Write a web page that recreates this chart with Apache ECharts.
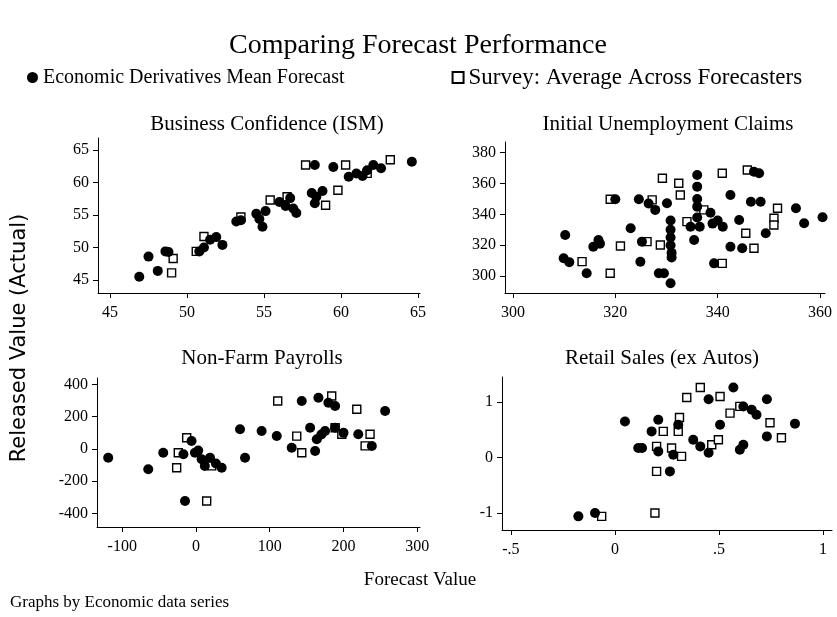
<!DOCTYPE html>
<html>
<head>
<meta charset="utf-8">
<script src="https://cdn.jsdelivr.net/npm/echarts@6/dist/echarts.min.js"></script>
<style>
  html, body { margin: 0; padding: 0; background: #fff; }
  #chart { width: 837px; height: 617px; }
</style>
</head>
<body>
<div id="chart"></div>
<script>
// ---- data: [forecast, released] pairs per indicator ----
const seriesNames = ['Economic Derivatives Mean Forecast', 'Survey: Average Across Forecasters'];
const panelTitles = ['Business Confidence (ISM)', 'Initial Unemployment Claims', 'Non-Farm Payrolls', 'Retail Sales (ex Autos)'];

const ismDerivatives = [[46.9,45.5],[47.5,48.6],[48.1,46.4],[48.6,49.4],[48.8,49.3],[50.8,49.4],[51.1,50.0],[51.5,51.2],[51.9,51.6],[52.3,50.4],[53.2,54.0],[53.5,54.2],[54.5,55.2],[54.7,54.4],[54.9,53.2],[55.1,55.6],[56.0,57.0],[56.4,56.4],[56.7,57.6],[56.9,56.0],[57.1,55.3],[58.1,58.4],[58.3,56.8],[58.4,57.8],[58.8,58.7],[58.3,62.7],[59.5,62.4],[60.5,60.9],[61.0,61.4],[61.4,61.0],[61.7,61.9],[62.1,62.7],[62.6,62.2],[64.6,63.2]];
const ismSurvey = [[49.0,46.1],[49.1,48.3],[50.6,49.4],[51.1,51.7],[53.5,54.7],[55.4,57.3],[56.5,57.8],[59.0,56.5],[59.8,58.8],[57.7,62.7],[60.3,62.7],[61.7,61.4],[63.2,63.5]];

const claimsDerivatives = [[310.2,326.6],[309.9,311.5],[311,309],[314.4,301.8],[315.7,319],[316.7,323.4],[317,321],[320,349.8],[324.6,349.8],[323,331],[325.2,322.3],[324.9,309.3],[328.5,301.8],[327.8,342.9],[326.5,347],[329.5,301.8],[330.8,295.3],[330.1,347.2],[330.8,336],[330.8,330],[330.8,325],[330.8,320],[331,315],[331,312],[334.7,332],[335.4,323.4],[336,365.6],[336,358],[336,350],[336,345],[336,338],[336.5,332],[338.6,341],[339,334],[340,336],[341,332],[342.5,352.6],[346.5,348.2],[348.4,348.2],[347.1,367.7],[348.1,366.7],[344.2,336.4],[342.5,319],[344.8,318],[339.3,308.2],[349.4,327.7],[355.3,344],[356.9,334.2],[360.5,338.1]];
const claimsSurvey = [[313.5,309.3],[319,301.8],[319,349.8],[321,319.5],[326.2,322.3],[327.2,349.4],[328.8,320.1],[329.2,363.4],[332.4,360.2],[332.7,352.6],[334,335.3],[337.3,342.9],[340.9,366.7],[345.8,368.8],[351.7,344],[351,337.5],[351,333.1],[347.1,318],[340.9,308.2],[345.5,327.7]];

const payrollDerivatives = [[-119,-54],[-64.7,-126],[-44.4,-23],[-14.9,-322],[-17,-33],[-6,50],[-1.4,-23],[3,-10],[7.7,-64],[12,-105],[19,-54],[27,-90],[34.8,-116],[59.7,122],[66.5,-54],[89,111],[109.5,80],[143.4,297],[166,318],[179.5,287],[188.6,266],[129.8,8],[154.7,132],[163.8,60],[175,111],[188.6,132],[161.5,-12],[170,90],[200,100],[220,91],[238.4,19],[256.4,235]];
const payrollSurvey = [[-26.2,-116],[-24,-23],[-12.6,70],[14.5,-322],[21.3,-105],[110.8,297],[136.6,80],[143.4,-23],[184,328],[188.6,132],[197.7,91],[218,246],[229.3,19],[236,91]];

const retailDerivatives = [[-0.176,-1.06],[-0.096,-1.0],[0.048,0.65],[0.112,0.17],[0.13,0.17],[0.176,0.47],[0.208,0.68],[0.208,0.11],[0.264,-0.25],[0.28,0.05],[0.304,0.59],[0.376,0.32],[0.41,0.2],[0.45,0.085],[0.45,1.05],[0.505,0.59],[0.569,1.26],[0.617,0.92],[0.657,0.86],[0.68,0.77],[0.60,0.14],[0.617,0.23],[0.73,1.05],[0.73,0.38],[0.865,0.61]];
const retailSurvey = [[-0.064,-1.06],[0.192,-1.0],[0.2,-0.25],[0.2,0.2],[0.272,0.17],[0.32,0.02],[0.232,0.47],[0.304,0.47],[0.31,0.72],[0.345,1.08],[0.41,1.26],[0.505,1.1],[0.553,0.8],[0.60,0.92],[0.465,0.23],[0.497,0.32],[0.745,0.625],[0.80,0.355]];

// ---- tick positions and their labels ----
const ismTicksX = [45, 50, 55, 60, 65];
const ismTicksY = [45, 50, 55, 60, 65];
const claimsTicksX = [300, 320, 340, 360];
const claimsTicksY = [300, 320, 340, 360, 380];
const payrollTicksX = [-100, 0, 100, 200, 300];
const payrollTicksY = [-400, -200, 0, 200, 400];
const retailTicksX = [-0.5, 0, 0.5, 1];
const retailTickLabelsX = ['-.5', '0', '.5', '1'];
const retailTicksY = [-1, 0, 1];

const SERIF = '"Liberation Serif", "Times New Roman", serif';
const SANS = '"DejaVu Sans", sans-serif';

// plot regions and axis ranges for the 2x2 layout
const grids = [
  { left: 98,  top: 138, width: 322, height: 155, xMin: 44.22, xMax: 65.13, yMin: 43.0,  yMax: 66.85 },
  { left: 505, top: 142, width: 320, height: 151, xMin: 298.44, xMax: 360.98, yMin: 288.97, yMax: 386.96 },
  { left: 97,  top: 378, width: 323, height: 149, xMin: -134.2, xMax: 303.7, yMin: -483.6, yMax: 440 },
  { left: 502, top: 377, width: 330, height: 153, xMin: -0.543, xMax: 1.043, yMin: -1.306, yMax: 1.45 }
];

const tickSets = [
  [ismTicksX, null, ismTicksY, null],
  [claimsTicksX, null, claimsTicksY, null],
  [payrollTicksX, null, payrollTicksY, null],
  [retailTicksX, retailTickLabelsX, retailTicksY, null]
];

function makeAxis(i, ticks, labels, min, max, isY) {
  return {
    type: 'value', gridIndex: i, min: min, max: max, scale: true,
    axisLine: { show: true, onZero: false, lineStyle: { color: '#000', width: 1 } },
    axisTick: { show: true, length: 5, customValues: ticks, lineStyle: { color: '#000', width: 1 } },
    axisLabel: {
      customValues: ticks, color: '#000', fontFamily: SERIF, fontSize: 16,
      margin: isY ? 9 : 12,
      formatter: function (v) {
        const k = ticks.findIndex(t => Math.abs(t - v) < 1e-9);
        return labels && k >= 0 ? labels[k] : String(v);
      }
    },
    splitLine: { show: false }
  };
}

const pairs = [
  [ismDerivatives, ismSurvey],
  [claimsDerivatives, claimsSurvey],
  [payrollDerivatives, payrollSurvey],
  [retailDerivatives, retailSurvey]
];

const series = [];
pairs.forEach((p, i) => {
  series.push({
    name: seriesNames[1], type: 'scatter', xAxisIndex: i, yAxisIndex: i,
    data: p[1], symbol: 'rect', symbolSize: 8,
    itemStyle: { color: '#fff', borderColor: '#000', borderWidth: 1.4, opacity: 1 },
    emphasis: { disabled: true }, z: 2
  });
  series.push({
    name: seriesNames[0], type: 'scatter', xAxisIndex: i, yAxisIndex: i,
    data: p[0], symbol: 'circle', symbolSize: 10,
    itemStyle: { color: '#000', borderColor: '#000', borderWidth: 0, opacity: 1 },
    emphasis: { disabled: true }, z: 3
  });
});

function centeredText(x, y, text, font, rotation) {
  return {
    type: 'text', x: x, y: y, rotation: rotation || 0,
    style: { text: text, font: font, fill: '#000', align: 'center', textAlign: 'center', verticalAlign: 'middle', textVerticalAlign: 'middle' }
  };
}

const titlePos = [[267, 124], [668, 124], [262, 358], [662, 358]];
const graphics = [
  centeredText(418, 46, 'Comparing Forecast Performance', '28px ' + SERIF),
  centeredText(20, 338, 'Released Value (Actual)', '21px ' + SANS, Math.PI / 2),
  centeredText(420, 580, 'Forecast Value', '19px ' + SERIF),
  { type: 'text', x: 10, y: 603, style: { text: 'Graphs by Economic data series', font: '17px ' + SERIF, fill: '#000', align: 'left', textAlign: 'left', verticalAlign: 'middle', textVerticalAlign: 'middle' } }
];
panelTitles.forEach((t, i) => {
  graphics.push(centeredText(titlePos[i][0], titlePos[i][1], t, '21px ' + SERIF));
});

const option = {
  backgroundColor: '#fff',
  animation: false,
  legend: {
    left: 22, top: 61, itemGap: 107, itemWidth: 11, itemHeight: 11,
    data: [
      { name: seriesNames[0], icon: 'circle', textStyle: { fontSize: 20 } },
      { name: seriesNames[1], icon: 'rect', textStyle: { fontSize: 23 } }
    ],
    textStyle: { fontFamily: SERIF, fontSize: 20, color: '#000' },
    selectedMode: false
  },
  grid: grids.map(g => ({ left: g.left, top: g.top, width: g.width, height: g.height })),
  xAxis: grids.map((g, i) => makeAxis(i, tickSets[i][0], tickSets[i][1], g.xMin, g.xMax, false)),
  yAxis: grids.map((g, i) => makeAxis(i, tickSets[i][2], tickSets[i][3], g.yMin, g.yMax, true)),
  series: series,
  graphic: graphics
};

echarts.init(document.getElementById('chart')).setOption(option);
</script>
</body>
</html>
